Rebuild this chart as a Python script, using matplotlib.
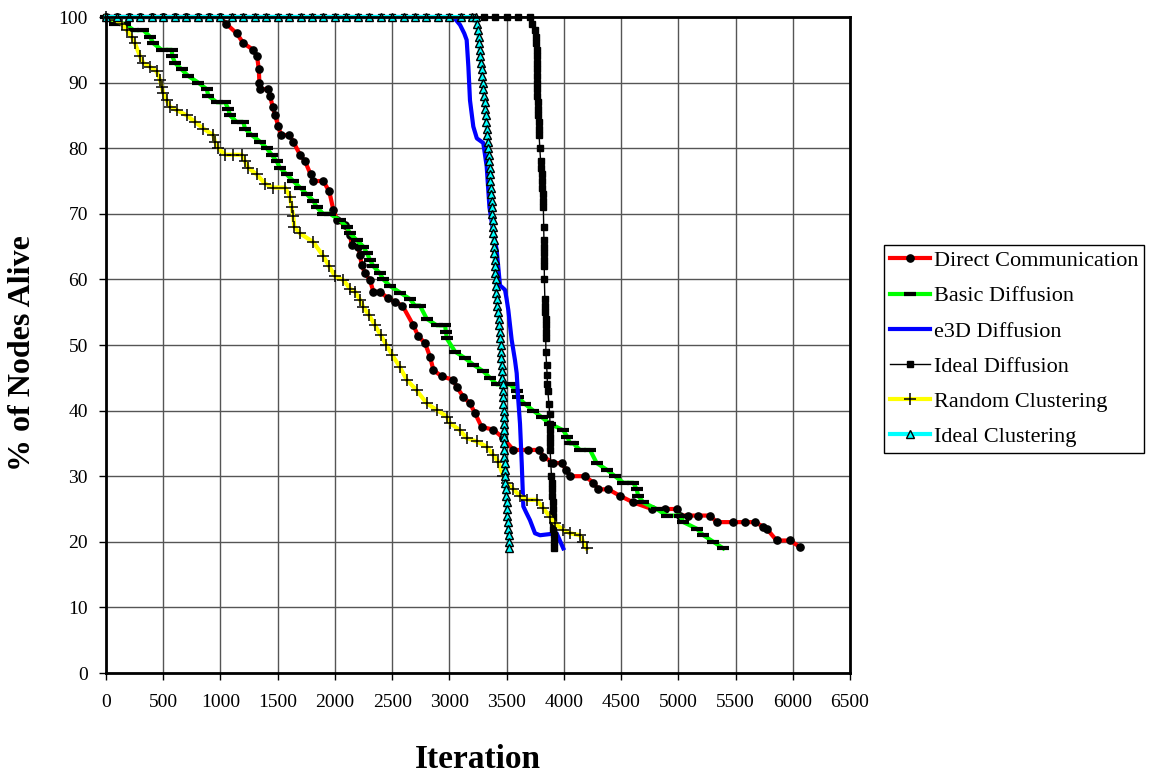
import matplotlib
matplotlib.use("Agg")
import matplotlib.pyplot as plt

plt.rcParams['font.family'] = ['Liberation Serif', 'DejaVu Serif']

# ---------------- data ----------------
dc_x = [0, 100, 200, 300, 400, 500, 600, 700, 800, 900, 1000, 1048, 1142, 1200, 1287, 1320, 1335, 1340,
        1345, 1418, 1433, 1456, 1477, 1505, 1529, 1601, 1636, 1695, 1739, 1788, 1811, 1898, 1951,
        1986, 2021, 2088, 2132, 2147, 2204, 2219, 2234, 2263, 2306, 2336, 2394, 2467, 2525, 2590,
        2685, 2729, 2787, 2831, 2860, 2933, 3034, 3064, 3122, 3180, 3224, 3282, 3384, 3471, 3559,
        3690, 3786, 3821, 3908, 3981, 4019, 4054, 4185, 4258, 4301, 4389, 4491, 4607, 4768, 4884,
        4986, 5015, 5088, 5175, 5277, 5335, 5481, 5583, 5670, 5743, 5772, 5859, 5976, 6063]
dc_y = [100, 100, 100, 100, 100, 100, 100, 100, 100, 100, 100, 99, 97.5, 96, 95, 94, 92, 90,
        89, 89, 88, 86.3, 85, 83.4, 82, 82, 81, 79, 78, 76, 75, 75, 73.4,
        70.6, 69, 68.3, 66.8, 65.2, 65, 63.7, 62.2, 60.9, 59.9, 58.1, 58.1, 57.1, 56.6, 56,
        53, 51.3, 50.3, 48.2, 46.2, 45.2, 44.7, 43.6, 42.1, 41.1, 39.6, 37.5, 37.1, 35.8, 34,
        34, 34, 33, 32, 32, 31, 30, 30, 29, 28, 28, 27, 26, 25, 25,
        25, 24, 24, 24, 24, 23, 23, 23, 23, 22.3, 22, 20.2, 20.2, 19.2]

bd_x = [0, 35, 80, 166, 239, 326, 384, 413, 486, 574, 580, 603, 661, 719, 806, 880, 894, 967, 1040,
        1068, 1083, 1142, 1200, 1214, 1273, 1345, 1404, 1448, 1491, 1520, 1579, 1636, 1695, 1753,
        1811, 1841, 1898, 1957, 2044, 2103, 2132, 2190, 2248, 2280, 2306, 2336, 2390, 2423, 2481,
        2569, 2656, 2699, 2743, 2802, 2889, 2962, 2970, 2977, 3049, 3136, 3209, 3296, 3355, 3413,
        3530, 3588, 3602, 3661, 3733, 3806, 3879, 3995, 4030, 4054, 4083, 4141, 4229, 4287, 4374,
        4447, 4520, 4607, 4636, 4650, 4694, 4811, 4898, 5015, 5044, 5161, 5219, 5306, 5393]
bd_y = [100, 100, 99, 99, 98, 98, 97, 96, 95, 95, 94, 93, 92, 91, 90, 89, 88, 87, 87,
        86, 85, 84, 84, 83, 82, 81, 80, 79, 78, 77, 76, 75, 74, 73,
        72, 71, 70, 70, 69, 68, 67, 66, 65, 64, 63, 62, 61, 60, 59,
        58, 57, 56, 56, 54, 53, 53, 52, 51, 49, 48, 47, 46, 45, 44,
        44, 43, 42, 41, 40, 39, 38, 37, 36, 35, 35, 34, 34, 32, 31,
        30, 29, 29, 28, 27, 26, 25, 24, 24, 23, 22, 21, 20, 19]

e3d_x = [0, 3030, 3060, 3093, 3130, 3151, 3166, 3180, 3209, 3240, 3296, 3326, 3350, 3385, 3413,
         3442, 3486, 3500, 3515, 3544, 3573, 3588, 3602, 3617, 3632, 3646, 3670, 3704, 3748, 3792,
         3937, 3970, 3995]
e3d_y = [100, 100, 99.5, 98.8, 97.5, 96.5, 92.4, 87.3, 83.3, 81.5, 80.8, 77.2, 71, 67, 64.5,
         59.1, 58.4, 57, 55.3, 50.8, 47.7, 45.7, 41.6, 38, 32, 25.4, 24.5, 23.3, 21.3, 21,
         21.3, 20, 19]

id_x = [0, 100, 200, 300, 400, 500, 600, 700, 800, 900, 1000, 1100, 1200, 1300, 1400, 1500, 1600,
        1700, 1800, 1900, 2000, 2100, 2200, 2300, 2400, 2500, 2600, 2700, 2800, 2900, 3000, 3100,
        3200, 3300, 3400, 3500, 3600, 3700,
        3725, 3748, 3757, 3760, 3762, 3763, 3764, 3765, 3766, 3767, 3768, 3769, 3772, 3775, 3777,
        3779, 3781, 3784, 3790, 3797, 3802, 3805, 3808, 3811, 3814, 3818, 3821,
        3824, 3826, 3827, 3827, 3828, 3829, 3830, 3834, 3836, 3838,
        3840, 3841, 3841, 3842, 3843, 3849, 3854, 3856, 3860, 3870, 3876, 3879,
        3879, 3879, 3880, 3880, 3886, 3892, 3895, 3897, 3899, 3901, 3903, 3905, 3907, 3909,
        3911, 3913, 3914]
id_y = [100] * 38 + [99, 98, 97, 96, 95, 94, 93, 92, 91, 90, 89, 88, 87, 86, 85,
                     84, 83, 82, 80, 78, 77, 76, 75, 74, 73, 72, 71,
                     68, 66, 65, 64, 63, 62, 60, 57, 56, 55,
                     54, 53, 52, 51, 49, 47, 45.5, 44, 43, 41, 39.5, 38,
                     37, 36, 35, 34, 32, 30, 29, 28, 27, 26, 25, 24, 23, 22,
                     21, 20, 19]

rc_x = [0, 79, 137, 181, 224, 253, 297, 326, 384, 443, 472, 486, 501, 530, 559, 618, 705, 778, 850,
        937, 952, 981, 1040, 1112, 1186, 1214, 1243, 1317, 1389, 1462, 1564, 1608, 1622, 1636, 1645,
        1695, 1811, 1900, 1950, 2000, 2073, 2132, 2176, 2219, 2248, 2300, 2350, 2400, 2450, 2500,
        2569, 2627, 2714, 2802, 2889, 2977, 3005, 3093, 3151, 3239, 3326, 3384, 3427, 3471, 3500,
        3559, 3617, 3675, 3762, 3821, 3879, 3923, 3995, 4054, 4141, 4170, 4199]
rc_y = [100, 99.5, 99, 98, 97, 96, 94, 93, 92.4, 91.7, 90.4, 89.4, 88.4, 87.3, 86.3, 85.8, 85, 84, 83,
        82, 81, 80, 79, 79, 79, 78, 77, 76, 74.6, 74, 74, 72.6, 71, 69.6, 68,
        67, 65.7, 63.5, 62, 60.5, 59.9, 58.6, 58.1, 56.9, 55.8, 54.5, 53, 51.5, 50, 48.5,
        46.6, 44.7, 43.1, 41.1, 40.1, 39.1, 38.1, 37, 35.8, 35.3, 34.5, 33.2, 32.2, 30, 29,
        28, 27, 26.4, 26.4, 25.1, 23.8, 22.8, 21.8, 21.3, 21, 20, 19]

ic_x = [0, 100, 200, 300, 400, 500, 600, 700, 800, 900, 1000, 1100, 1200, 1300, 1400, 1500, 1600,
        1700, 1800, 1900, 2000, 2100, 2200, 2300, 2400, 2500, 2600, 2700, 2800, 2900, 3000, 3100,
        3200, 3230, 3240, 3248, 3255, 3260, 3265, 3270, 3275, 3282, 3288, 3293, 3297, 3302, 3307,
        3312, 3317, 3322, 3327, 3332, 3336, 3341, 3345, 3349, 3353, 3356, 3359, 3363, 3366, 3369,
        3372, 3375, 3378, 3381, 3384, 3387, 3390, 3393, 3396, 3399, 3401, 3404, 3407, 3410, 3413,
        3419, 3425, 3431, 3436, 3442, 3445, 3448, 3451, 3454, 3457, 3460, 3462, 3465, 3467, 3470,
        3472, 3473, 3474, 3474, 3475, 3476, 3477, 3478, 3480, 3482, 3484, 3485, 3487, 3491, 3495,
        3499, 3503, 3507, 3510, 3514, 3517, 3520, 3524]
ic_y = [100] * 34 + [99, 98, 97, 96, 95, 94, 93, 92, 91, 90, 89, 88, 87,
                     86, 85, 84, 83, 82, 81, 80, 79, 78, 77, 76, 75, 74, 73, 72,
                     71, 70, 69, 68, 67, 66, 65, 64, 63, 62, 61, 60, 59, 58, 57,
                     56, 55, 54, 53, 52, 51, 50, 49, 48, 47, 46, 45, 44, 43, 42,
                     41, 40, 39, 38, 37, 36, 35, 34, 33, 32, 31, 30, 29, 28, 27,
                     26, 25, 24, 23, 22, 21, 20, 19]

labels = ["Direct Communication", "Basic Diffusion", "e3D Diffusion",
          "Ideal Diffusion", "Random Clustering", "Ideal Clustering"]
x_ticks = [0, 500, 1000, 1500, 2000, 2500, 3000, 3500, 4000, 4500, 5000, 5500, 6000, 6500]
y_ticks = [0, 10, 20, 30, 40, 50, 60, 70, 80, 90, 100]

# ---------------- figure ----------------
fig = plt.figure(figsize=(11.75, 7.82), dpi=100)
ax = fig.add_axes([106 / 1175, 1 - 673 / 782, (850 - 106) / 1175, (673 - 17) / 782])

ax.set_xlim(0, 6500)
ax.set_ylim(0, 100)
ax.set_xticks(x_ticks)
ax.set_yticks(y_ticks)
ax.grid(True, color='#555555', linewidth=1.0)
ax.set_axisbelow(True)

common = dict(clip_on=False)
ax.plot(dc_x, dc_y, color='#FF0000', lw=3, marker='o', ms=5.2, mfc='black', mec='black',
        label=labels[0], **common)
ax.plot(bd_x, bd_y, color='#00FF00', lw=3, marker='_', ms=8, mew=3, mec='black',
        label=labels[1], **common)
ax.plot(e3d_x, e3d_y, color='#0000FF', lw=3, label=labels[2], **common)
ax.plot(id_x, id_y, color='black', lw=1, marker='s', ms=4, mfc='black', mec='black',
        label=labels[3], **common)
ax.plot(rc_x, rc_y, color='#FFFF00', lw=3, marker='+', ms=8, mew=1.1, mec='black',
        label=labels[4], **common)
ax.plot(ic_x, ic_y, color='#00FFFF', lw=3, marker='^', ms=6, mfc='#00FFFF', mec='black', mew=1,
        label=labels[5], **common)

for s in ax.spines.values():
    s.set_linewidth(2)
    s.set_color('black')
    s.set_zorder(5)

ax.tick_params(axis='both', direction='out', length=5, width=1, labelsize=14, color='black')
ax.tick_params(axis='x', pad=10)
ax.tick_params(axis='y', pad=8)

ax.set_xlabel("Iteration", fontsize=24, fontweight='bold', va='center')
ax.xaxis.set_label_coords(0.5, (673 - 760) / 656)
ax.set_ylabel("% of Nodes Alive", fontsize=23, fontweight='bold', va='center')
ax.yaxis.set_label_coords((22 - 106) / 744, (673 - 353) / 656)

leg = fig.legend(loc='upper left', bbox_to_anchor=(884 / 1175, 1 - 245 / 782),
                 bbox_transform=fig.transFigure, fontsize=16, frameon=True, fancybox=False,
                 edgecolor='black', framealpha=1, borderpad=0.25, labelspacing=0.66,
                 handlelength=1.8, handletextpad=0.2, borderaxespad=0, numpoints=1)
leg.get_frame().set_linewidth(1)

fig.savefig("out.png", dpi=100)
